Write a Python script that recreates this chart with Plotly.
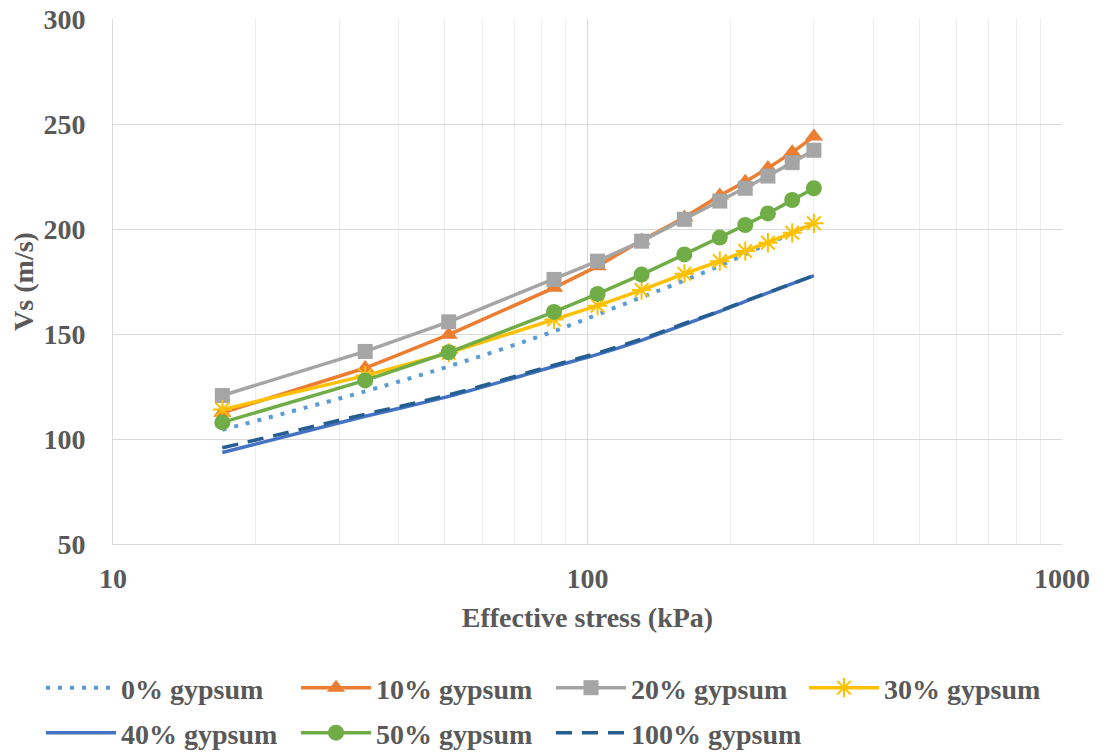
import plotly.graph_objects as go

stress = [17, 34, 51, 85, 105, 130, 160, 190, 215, 240, 270, 300]

vs_0 = [104.4, 122.7, 134.6, 151.3, 159.3, 167.5, 175.5, 182.5, 188.0, 193.0, 198.0, 203.0]
vs_10 = [112.5, 133.8, 149.7, 172.0, 182.3, 194.5, 205.5, 216.0, 222.5, 229.0, 236.5, 244.0]
vs_20 = [120.7, 141.7, 155.8, 176.0, 184.7, 194.2, 204.6, 213.3, 219.4, 225.2, 231.6, 237.5]
vs_30 = [114.0, 130.2, 141.0, 156.9, 163.5, 170.9, 178.7, 184.7, 189.5, 193.5, 198.2, 202.7]
vs_40 = [93.6, 110.8, 120.3, 134.5, 140.3, 147.0, 154.5, 160.8, 165.5, 169.6, 174.0, 177.8]
vs_50 = [107.9, 127.9, 141.3, 160.5, 169.1, 178.3, 187.9, 195.9, 201.9, 207.4, 213.8, 219.4]
vs_100 = [95.8, 111.8, 121.0, 135.2, 141.0, 147.6, 155.0, 161.0, 165.7, 169.7, 174.0, 177.8]

names = ["0% gypsum", "10% gypsum", "20% gypsum", "30% gypsum",
         "40% gypsum", "50% gypsum", "100% gypsum"]

FONT = "Liberation Serif"
TXT = "#595959"
FS = 28

fig = go.Figure()

fig.add_trace(go.Scatter(x=stress, y=vs_0, name=names[0], mode="lines", legend="legend",
                         line=dict(color="#5B9BD5", width=4, dash="4px,8px", shape="spline")))
fig.add_trace(go.Scatter(x=stress, y=vs_10, name=names[1], mode="lines+markers", legend="legend2",
                         line=dict(color="#ED7D31", width=3.5),
                         marker=dict(symbol="triangle-up", size=16, color="#ED7D31")))
fig.add_trace(go.Scatter(x=stress, y=vs_20, name=names[2], mode="lines+markers", legend="legend3",
                         line=dict(color="#A5A5A5", width=3.5),
                         marker=dict(symbol="square", size=15, color="#A5A5A5")))
fig.add_trace(go.Scatter(x=stress, y=vs_30, name=names[3], mode="lines+markers", legend="legend4",
                         line=dict(color="#FFC000", width=3.5),
                         marker=dict(symbol="asterisk-open", size=16,
                                     line=dict(color="#FFC000", width=2))))
fig.add_trace(go.Scatter(x=stress, y=vs_40, name=names[4], mode="lines", legend="legend5",
                         line=dict(color="#4472C4", width=3.5, shape="spline")))
fig.add_trace(go.Scatter(x=stress, y=vs_50, name=names[5], mode="lines+markers", legend="legend6",
                         line=dict(color="#70AD47", width=3.5),
                         marker=dict(symbol="circle", size=16, color="#70AD47")))
fig.add_trace(go.Scatter(x=stress, y=vs_100, name=names[6], mode="lines", legend="legend7",
                         line=dict(color="#255E91", width=3.5, dash="16px,10px", shape="spline")))

W, H = 1104, 756
col_x = [33, 288, 543, 796]
row_y = [680, 725]
slots = [(0, 0), (1, 0), (2, 0), (3, 0), (0, 1), (1, 1), (2, 1)]

legend_common = dict(orientation="h", xref="container", yref="container",
                     xanchor="left", yanchor="middle", itemwidth=70,
                     font=dict(family=FONT, size=FS, color=TXT, weight="bold"),
                     bgcolor="rgba(0,0,0,0)", borderwidth=0)

legends = {}
for i, (c, r) in enumerate(slots):
    key = "legend" if i == 0 else f"legend{i + 1}"
    legends[key] = dict(legend_common, x=col_x[c] / W, y=(H - row_y[r]) / H)

fig.update_layout(
    width=W, height=H,
    paper_bgcolor="white", plot_bgcolor="white",
    margin=dict(l=105, r=50, t=11, b=220, autoexpand=False),
    font=dict(family=FONT, size=FS, color=TXT),
    showlegend=True,
    **legends,
)

fig.update_xaxes(
    type="log", range=[1, 3],
    tickvals=[10, 100, 1000], ticktext=["10", "100", "1000"],
    tickfont=dict(family=FONT, size=FS, color=TXT, weight="bold"),
    ticks="", ticklabelstandoff=9, ticklabeloverflow="allow",
    showgrid=True, gridcolor="#D9D9D9", gridwidth=1,
    minor=dict(dtick="D1", showgrid=True, gridcolor="#EDEDED", gridwidth=1, ticks=""),
    showline=True, linecolor="#D9D9D9", linewidth=1,
    zeroline=False,
    title=dict(text="Effective stress (kPa)", standoff=14,
               font=dict(family=FONT, size=FS, color=TXT, weight="bold")),
)

fig.update_yaxes(
    range=[50, 300], dtick=50, tick0=50,
    tickfont=dict(family=FONT, size=FS, color=TXT, weight="bold"),
    ticks="", ticklabelstandoff=21, ticklabeloverflow="allow",
    showgrid=True, gridcolor="#D9D9D9", gridwidth=1,
    showline=True, linecolor="#D9D9D9", linewidth=1,
    zeroline=False,
    title=dict(text="Vs (m/s)", standoff=4,
               font=dict(family=FONT, size=FS, color=TXT, weight="bold")),
)

fig.write_html("out.html")
